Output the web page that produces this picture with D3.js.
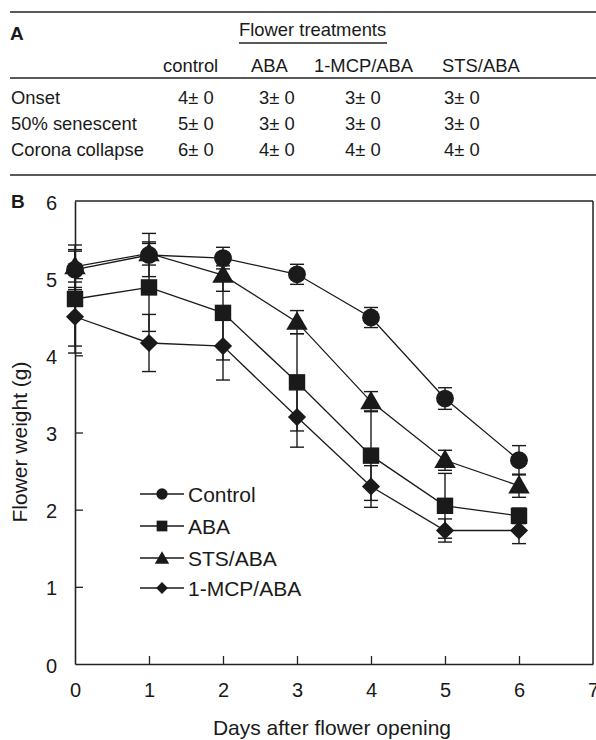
<!DOCTYPE html>
<html><head><meta charset="utf-8">
<script src="https://cdn.jsdelivr.net/npm/d3@7"></script>
<style>
html,body{margin:0;padding:0;background:#fff;}
svg text{font-family:"Liberation Sans",Arial,Helvetica,sans-serif;fill:#1a1a1a;}
</style></head>
<body>
<svg id="chart" width="596" height="740"></svg>
<script>
// ---- Table (panel A) ----
const tableCols = ["control", "ABA", "1-MCP/ABA", "STS/ABA"];
const tableRows = ["Onset", "50% senescent", "Corona collapse"];
const tableMeans = [[4, 3, 3, 3], [5, 3, 3, 3], [6, 4, 4, 4]];
const tableSE = [[0, 0, 0, 0], [0, 0, 0, 0], [0, 0, 0, 0]];

// ---- Chart (panel B) ----
const days = [0, 1, 2, 3, 4, 5, 6];
const seriesNames = ["Control", "ABA", "STS/ABA", "1-MCP/ABA"];
const seriesSymbols = ["circle", "square", "triangle", "diamond"];
const controlVals = [5.11, 5.30, 5.26, 5.05, 4.49, 3.44, 2.64];
const controlSE   = [0.26, 0.28, 0.14, 0.13, 0.13, 0.14, 0.19];
const abaVals     = [4.73, 4.88, 4.55, 3.65, 2.70, 2.05, 1.92];
const abaSE       = [0.70, 0.57, 0.61, 0.63, 0.58, 0.42, 0.10];
const stsVals     = [5.15, 5.32, 5.04, 4.43, 3.40, 2.64, 2.31];
const stsSE       = [0.20, 0.15, 0.21, 0.15, 0.13, 0.13, 0.15];
const mcpVals     = [4.50, 4.16, 4.12, 3.20, 2.30, 1.73, 1.73];
const mcpSE       = [0.38, 0.37, 0.44, 0.39, 0.27, 0.15, 0.17];
const xTicks = [0, 1, 2, 3, 4, 5, 6, 7];
const yTicks = [0, 1, 2, 3, 4, 5, 6];

const seriesVals = [controlVals, abaVals, stsVals, mcpVals];
const seriesSE = [controlSE, abaSE, stsSE, mcpSE];

const svg = d3.select("#chart");
const FS_T = 18.4;   // table text
const FS_TICK = 20;  // tick labels
const FS_L = 21;     // axis titles & legend
const INK = "#1a1a1a";

// ---------- Panel A ----------
const tA = svg.append("g");
tA.append("line").attr("x1", 10).attr("x2", 596).attr("y1", 12).attr("y2", 12).attr("stroke", "#222").attr("stroke-width", 1.3);
tA.append("text").attr("x", 10).attr("y", 40).attr("font-size", 19).attr("font-weight", "bold").text("A");
tA.append("text").attr("x", 239).attr("y", 36).attr("font-size", FS_T).text("Flower treatments");
tA.append("line").attr("x1", 239).attr("x2", 387).attr("y1", 43).attr("y2", 43).attr("stroke", "#222").attr("stroke-width", 1.3);
const colX = [163, 251, 314, 442];
const valX = [178, 259, 345, 444];
tA.selectAll("text.col").data(tableCols).enter().append("text").attr("class", "col")
  .attr("x", (d, i) => colX[i]).attr("y", 72).attr("font-size", FS_T).text(d => d);
tA.append("line").attr("x1", 10).attr("x2", 596).attr("y1", 78).attr("y2", 78).attr("stroke", "#222").attr("stroke-width", 1.3);
const rowY = [104, 130, 156];
tableRows.forEach((r, i) => {
  tA.append("text").attr("x", 11).attr("y", rowY[i]).attr("font-size", FS_T).text(r);
  tableMeans[i].forEach((m, j) => {
    tA.append("text").attr("x", valX[j]).attr("y", rowY[i]).attr("font-size", FS_T).text(m + "\u00b1 " + tableSE[i][j]);
  });
});
tA.append("line").attr("x1", 10).attr("x2", 596).attr("y1", 175).attr("y2", 175).attr("stroke", "#222").attr("stroke-width", 1.3);

// ---------- Panel B ----------
svg.append("text").attr("x", 11).attr("y", 208).attr("font-size", 19).attr("font-weight", "bold").text("B");

const x = d3.scaleLinear().domain([0, 7]).range([75, 593]);
const y = d3.scaleLinear().domain([0, 6]).range([664, 201]);

// frame (top and right)
svg.append("line").attr("x1", x(0)).attr("x2", x(7)).attr("y1", y(6)).attr("y2", y(6)).attr("stroke", "#222").attr("stroke-width", 1.3);
svg.append("line").attr("x1", x(7)).attr("x2", x(7)).attr("y1", y(6)).attr("y2", y(0)).attr("stroke", "#222").attr("stroke-width", 1.5);

const xAxis = svg.append("g").attr("transform", `translate(0,${y(0)})`)
  .call(d3.axisBottom(x).tickValues(xTicks).tickFormat(d3.format("d")).tickSizeInner(-8).tickSizeOuter(0).tickPadding(19));
const yAxis = svg.append("g").attr("transform", `translate(${x(0)},0)`)
  .call(d3.axisLeft(y).tickValues(yTicks).tickFormat(d3.format("d")).tickSizeInner(-8).tickSizeOuter(0).tickPadding(18));
[xAxis, yAxis].forEach(a => {
  a.selectAll("path.domain").attr("stroke", "#222").attr("stroke-width", 1.6);
  a.selectAll(".tick line").attr("stroke", "#222").attr("stroke-width", 1.3);
  a.selectAll(".tick text").attr("font-size", FS_TICK).attr("font-family", "Liberation Sans, Arial, sans-serif").attr("fill", INK);
});
yAxis.selectAll(".tick text").attr("dy", "0.4em");
xAxis.selectAll(".tick").filter(d => d === 0 || d === 7).select("line").remove();
yAxis.selectAll(".tick").filter(d => d === 0 || d === 6).select("line").remove();

svg.append("text").attr("x", 332).attr("y", 735).attr("text-anchor", "middle").attr("font-size", FS_L).text("Days after flower opening");
svg.append("text").attr("transform", `translate(27,442) rotate(-90)`).attr("text-anchor", "middle")
  .attr("font-size", FS_L).text("Flower weight (g)");

const symMap = { circle: d3.symbolCircle, square: d3.symbolSquare, triangle: d3.symbolTriangle, diamond: d3.symbolSquare };
const symSize = { circle: 250, square: 270, triangle: 200, diamond: 165 };
const legSize = { circle: 100, square: 115, triangle: 90, diamond: 70 };
const symTf = (sym, cx, cy) => `translate(${cx},${cy + (sym === "triangle" ? 1.5 : 0)})` + (sym === "diamond" ? " rotate(45)" : "");

const line = d3.line().x((d, i) => x(days[i])).y(d => y(d));
const plot = svg.append("g");
// lines
seriesVals.forEach(vals => {
  plot.append("path").attr("d", line(vals)).attr("fill", "none").attr("stroke", INK).attr("stroke-width", 1.3);
});
// error bars
seriesVals.forEach((vals, s) => {
  vals.forEach((v, i) => {
    const se = seriesSE[s][i];
    const g = plot.append("g").attr("stroke", INK).attr("stroke-width", 1.4);
    const cx = x(days[i]);
    g.append("line").attr("x1", cx).attr("x2", cx).attr("y1", y(v - se)).attr("y2", y(v + se));
    g.append("line").attr("x1", cx - 7).attr("x2", cx + 7).attr("y1", y(v - se)).attr("y2", y(v - se));
    g.append("line").attr("x1", cx - 7).attr("x2", cx + 7).attr("y1", y(v + se)).attr("y2", y(v + se));
  });
});
// markers
seriesVals.forEach((vals, s) => {
  const sym = seriesSymbols[s];
  vals.forEach((v, i) => {
    plot.append("path").attr("d", d3.symbol().type(symMap[sym]).size(symSize[sym])())
      .attr("transform", symTf(sym, x(days[i]), y(v)))
      .attr("fill", INK);
  });
});

// legend
const legY = [494, 526, 558, 588];
seriesNames.forEach((n, i) => {
  const sym = seriesSymbols[i];
  const g = svg.append("g").attr("transform", `translate(0,${legY[i]})`);
  g.append("line").attr("x1", 140).attr("x2", 184).attr("y1", 0).attr("y2", 0).attr("stroke", INK).attr("stroke-width", 1.3);
  g.append("path").attr("d", d3.symbol().type(symMap[sym]).size(legSize[sym])())
    .attr("transform", symTf(sym, 162, 0)).attr("fill", INK);
  g.append("text").attr("x", 188).attr("y", 7.5).attr("font-size", FS_L).text(n);
});
</script>
</body></html>
